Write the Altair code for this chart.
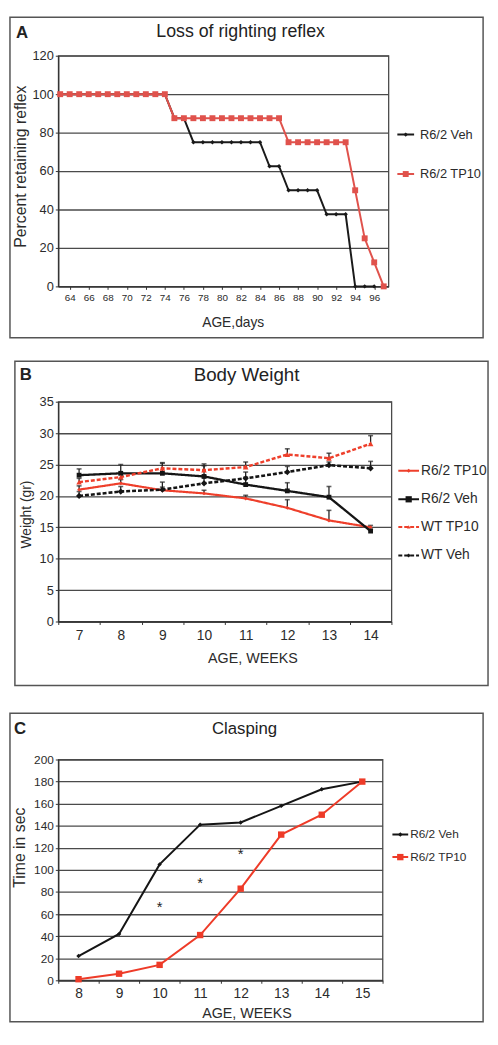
import altair as alt
import pandas as pd

FONT = "Liberation Sans"
INK = "#2b2b2b"
FRAME = "#555555"

# ---------------- Panel A : Loss of righting reflex ----------------
A_TITLE = "Loss of righting reflex"
A_SERIES = ["R6/2 Veh", "R6/2 TP10"]
A_COLORS = ["#1a1a1a", "#e0524c"]
A_SHAPES = ["diamond", "square"]
A_SIZES = [20, 36]
A_DAYS_VEH = [63, 64, 65, 66, 67, 68, 69, 70, 71, 72, 73, 74, 75, 76, 77, 78, 79,
              80, 81, 82, 83, 84, 85, 86, 87, 88, 89, 90, 91, 92, 93, 94, 95, 96]
A_VEH = [100, 100, 100, 100, 100, 100, 100, 100, 100, 100, 100, 100, 87.5, 87.5,
         75, 75, 75, 75, 75, 75, 75, 75, 62.5, 62.5, 50, 50, 50, 50,
         37.5, 37.5, 37.5, 0, 0, 0]
A_DAYS_TP10 = [63, 64, 65, 66, 67, 68, 69, 70, 71, 72, 73, 74, 75, 76, 77, 78, 79,
               80, 81, 82, 83, 84, 85, 86, 87, 88, 89, 90, 91, 92, 93, 94, 95, 96, 97]
A_TP10 = [100, 100, 100, 100, 100, 100, 100, 100, 100, 100, 100, 100,
          87.5, 87.5, 87.5, 87.5, 87.5, 87.5, 87.5, 87.5, 87.5, 87.5, 87.5, 87.5,
          75, 75, 75, 75, 75, 75, 75, 50, 25, 12.5, 0]
A_XTICKS = [64, 66, 68, 70, 72, 74, 76, 78, 80, 82, 84, 86, 88, 90, 92, 94, 96]
A_YTICKS = [0, 20, 40, 60, 80, 100, 120]

# ---------------- Panel B : Body Weight ----------------
B_TITLE = "Body Weight"
B_SERIES = ["R6/2 TP10", "R6/2 Veh", "WT TP10", "WT Veh"]
B_COLORS = ["#ee3f2b", "#151515", "#ee3f2b", "#151515"]
B_SHAPES = ["diamond", "square", "triangle-up", "diamond"]
B_SIZES = [16, 40, 14, 16]
B_DASHES = [[1, 0], [1, 0], [4, 2], [4, 2]]
B_WIDTHS = [2.2, 2.6, 1.5, 1.5]
B_WEEKS = [7, 8, 9, 10, 11, 12, 13, 14]
B_TP10 = [21.0, 22.0, 20.9, 20.4, 19.6, 18.1, 16.1, 15.0]
B_VEH = [23.3, 23.6, 23.6, 23.1, 21.8, 20.8, 19.8, 14.4]
B_WT_TP10 = [22.2, 23.0, 24.4, 24.1, 24.6, 26.6, 26.0, 28.3]
B_WT_VEH = [20.0, 20.7, 21.0, 22.0, 22.8, 23.8, 24.9, 24.4]
B_TP10_ERR = [0.6, 0.6, 0.5, 0.5, 0.5, 1.3, 1.6, 0.3]
B_VEH_ERR = [1.0, 1.4, 1.7, 2.0, 1.2, 1.3, 1.7, 0.3]
B_WT_TP10_ERR = [0.6, 0.6, 0.8, 0.7, 0.8, 0.9, 0.8, 1.3]
B_WT_VEH_ERR = [0.7, 0.8, 1.2, 1.2, 1.0, 0.9, 0.5, 1.1]
B_YTICKS = [0, 5, 10, 15, 20, 25, 30, 35]

# ---------------- Panel C : Clasping ----------------
C_TITLE = "Clasping"
C_SERIES = ["R6/2 Veh", "R6/2 TP10"]
C_COLORS = ["#151515", "#ee3b28"]
C_SHAPES = ["diamond", "square"]
C_SIZES = [20, 42]
C_WEEKS = [8, 9, 10, 11, 12, 13, 14, 15]
C_VEH = [22, 42, 105, 141, 143, 158, 173, 180]
C_TP10 = [1, 6, 14, 41, 83, 132, 150, 180]
C_STAR_WEEKS = [10, 11, 12]
C_STAR_Y = [69, 91, 117]
C_YTICKS = [0, 20, 40, 60, 80, 100, 120, 140, 160, 180, 200]

ONE = pd.DataFrame({"k": [0]})
CHANNELS = ["color", "fill", "stroke", "shape", "size", "strokeDash", "strokeWidth"]


def frame(x1, x2, y1, y2):
    return alt.Chart(ONE).mark_rect(filled=False, stroke=FRAME, strokeWidth=1.5).encode(
        x=alt.value(x1), x2=alt.value(x2), y=alt.value(y1), y2=alt.value(y2))


def label(text, x, y, size, weight="normal", align="center", color="#222222"):
    return alt.Chart(pd.DataFrame({"t": [text]})).mark_text(
        font=FONT, fontSize=size, fontWeight=weight, align=align,
        baseline="middle", color=color).encode(
        x=alt.value(x), y=alt.value(y), text="t:N")


def legend_layers(names, colors, shapes, sizes, dashes, x1, x2, ys, tx, fs):
    out = []
    for n, c, sh, sz, d, y in zip(names, colors, shapes, sizes, dashes, ys):
        out.append(alt.Chart(ONE).mark_rule(color=c, strokeWidth=2, strokeDash=d).encode(
            x=alt.value(x1), x2=alt.value(x2), y=alt.value(y)))
        out.append(alt.Chart(ONE).mark_point(filled=True, shape=sh, size=sz, color=c,
                                             opacity=1).encode(
            x=alt.value((x1 + x2) / 2), y=alt.value(y)))
        out.append(label(n, tx, y, fs, align="left", color=INK))
    return out


def independent(ch):
    kw = {c: "independent" for c in CHANNELS}
    return ch.resolve_scale(**kw).resolve_legend(**kw)


# ======== Panel A ========
dfA = pd.DataFrame({
    "day": A_DAYS_VEH + A_DAYS_TP10,
    "pct": A_VEH + A_TP10,
    "series": [A_SERIES[0]] * len(A_VEH) + [A_SERIES[1]] * len(A_TP10),
})
xA = alt.X("day:Q", scale=alt.Scale(domain=[62.8, 97.5], nice=False, zero=False),
           axis=alt.Axis(values=A_XTICKS, format="d", title="AGE,days", grid=False,
                         labelFontSize=10, titleFontSize=14, titleX=177, titleY=37,
                         titleBaseline="middle", tickSize=3, labelPadding=3,
                         labelFlush=False))
yA = alt.Y("pct:Q", scale=alt.Scale(domain=[0, 120], nice=False),
           axis=alt.Axis(values=A_YTICKS, title="Percent retaining reflex",
                         labelFontSize=13, titleFontSize=16, titleX=-38, titleY=112,
                         titleBaseline="middle", tickSize=3, labelPadding=2))
colA = alt.Scale(domain=A_SERIES, range=A_COLORS)
lineA = alt.Chart(dfA).mark_line(strokeWidth=2).encode(
    x=xA, y=yA, color=alt.Color("series:N", scale=colA, legend=None))
ptsA = alt.Chart(dfA).mark_point(filled=True, opacity=1, strokeWidth=1).encode(
    x=xA, y=yA,
    color=alt.Color("series:N", scale=colA, legend=None),
    shape=alt.Shape("series:N", scale=alt.Scale(domain=A_SERIES, range=A_SHAPES), legend=None),
    size=alt.Size("series:N", scale=alt.Scale(domain=A_SERIES, range=A_SIZES), legend=None))
chartA = alt.layer(
    frame(-49, 431, -39, 286), lineA, ptsA,
    label(A_TITLE, 185, -24, 18), label("A", -43, -23, 17, "bold", "left"),
    *legend_layers(A_SERIES, A_COLORS, A_SHAPES, A_SIZES, [[1, 0], [1, 0]],
                   344, 361, [80, 120], 367, 13),
).properties(width=335, height=234)

# ======== Panel B ========
b_vals = [B_TP10, B_VEH, B_WT_TP10, B_WT_VEH]
b_errs = [B_TP10_ERR, B_VEH_ERR, B_WT_TP10_ERR, B_WT_VEH_ERR]
rows = []
for s, vals, errs in zip(B_SERIES, b_vals, b_errs):
    for wk, v, e in zip(B_WEEKS, vals, errs):
        rows.append({"week": wk, "w": v, "err": e, "series": s})
dfB = pd.DataFrame(rows)
xB = alt.X("week:O", scale=alt.Scale(type="band", paddingInner=0, paddingOuter=0),
           axis=alt.Axis(title="AGE, WEEKS", labelAngle=0, tickBand="extent", grid=False,
                         labelFontSize=14, titleFontSize=14.5, titleX=197, titleY=38,
                         titleBaseline="middle", tickSize=3, labelPadding=4))
scB = alt.Scale(domain=[0, 35], nice=False)
axB = alt.Axis(values=B_YTICKS, title="Weight (gr)", labelFontSize=13,
               titleFontSize=14, titleX=-32, titleY=114,
               titleBaseline="middle", tickSize=3, labelPadding=2)
yB = alt.Y("w:Q", scale=scB, axis=axB)
yBhi = alt.Y("hi:Q", scale=scB, axis=axB)
colB = alt.Scale(domain=B_SERIES, range=B_COLORS)
lineB = alt.Chart(dfB).mark_line().encode(
    x=xB, y=yB,
    color=alt.Color("series:N", scale=colB, legend=None),
    strokeDash=alt.StrokeDash("series:N", scale=alt.Scale(domain=B_SERIES, range=B_DASHES), legend=None),
    strokeWidth=alt.StrokeWidth("series:N", scale=alt.Scale(domain=B_SERIES, range=B_WIDTHS), legend=None))
errB = alt.Chart(dfB).transform_calculate(hi="datum.w + datum.err").mark_rule(
    color="#222222", strokeWidth=1.3).encode(x=xB, y=yB, y2="hi:Q")
capB = alt.Chart(dfB).transform_calculate(hi="datum.w + datum.err").mark_tick(
    color="#222222", thickness=1.6, size=5, orient="horizontal").encode(x=xB, y=yBhi)
ptsB = alt.Chart(dfB).mark_point(filled=True, opacity=1, strokeWidth=1).encode(
    x=xB, y=yB,
    color=alt.Color("series:N", scale=colB, legend=None),
    shape=alt.Shape("series:N", scale=alt.Scale(domain=B_SERIES, range=B_SHAPES), legend=None),
    size=alt.Size("series:N", scale=alt.Scale(domain=B_SERIES, range=B_SIZES), legend=None))
chartB = alt.layer(
    frame(-44, 436, -41, 288), lineB, errB, capB, ptsB,
    label(B_TITLE, 191, -27, 19), label("B", -39, -27, 17, "bold", "left"),
    *legend_layers(B_SERIES, B_COLORS, B_SHAPES, B_SIZES, B_DASHES,
                   345, 366, [70, 99, 127, 156], 368, 14),
).properties(width=338, height=223)

# ======== Panel C ========
dfC = pd.DataFrame({
    "week": C_WEEKS + C_WEEKS,
    "t": C_VEH + C_TP10,
    "series": [C_SERIES[0]] * len(C_VEH) + [C_SERIES[1]] * len(C_TP10),
})
dfStar = pd.DataFrame({"week": C_STAR_WEEKS, "t": C_STAR_Y, "s": ["*"] * len(C_STAR_WEEKS)})
xC = alt.X("week:O", scale=alt.Scale(type="band", paddingInner=0, paddingOuter=0),
           axis=alt.Axis(title="AGE, WEEKS", labelAngle=0, tickBand="extent", grid=False,
                         labelFontSize=14, titleFontSize=14.5, titleX=191, titleY=34,
                         titleBaseline="middle", tickSize=3, labelPadding=3))
yC = alt.Y("t:Q", scale=alt.Scale(domain=[0, 200], nice=False),
           axis=alt.Axis(values=C_YTICKS, title="Time in sec", labelFontSize=12,
                         titleFontSize=16, titleX=-39, titleY=89,
                         titleBaseline="middle", tickSize=3, labelPadding=2))
colC = alt.Scale(domain=C_SERIES, range=C_COLORS)
lineC = alt.Chart(dfC).mark_line(strokeWidth=2).encode(
    x=xC, y=yC, color=alt.Color("series:N", scale=colC, legend=None))
ptsC = alt.Chart(dfC).mark_point(filled=True, opacity=1, strokeWidth=1).encode(
    x=xC, y=yC,
    color=alt.Color("series:N", scale=colC, legend=None),
    shape=alt.Shape("series:N", scale=alt.Scale(domain=C_SERIES, range=C_SHAPES), legend=None),
    size=alt.Size("series:N", scale=alt.Scale(domain=C_SERIES, range=C_SIZES), legend=None))
starC = alt.Chart(dfStar).mark_text(font=FONT, fontSize=15, color="#222222",
                                    baseline="alphabetic", dy=8).encode(
    x=xC, y=yC, text="s:N")
chartC = alt.layer(
    frame(-49, 431, -47, 266), lineC, ptsC, starC,
    label(C_TITLE, 189, -31, 17), label("C", -45, -31, 17, "bold", "left"),
    *legend_layers(C_SERIES, C_COLORS, C_SHAPES, C_SIZES, [[1, 0], [1, 0]],
                   339, 355, [76, 99], 357, 12),
).properties(width=329, height=224)

inner = independent(alt.vconcat(chartB, chartC, spacing=24))
chart = independent(alt.vconcat(chartA, inner, spacing=20))
chart = chart.properties(
    padding={"left": 0, "top": 0, "right": 0, "bottom": 0}
).configure(background="white", padding=0).configure_view(
    stroke="#4a4a4a", strokeWidth=1.3
).configure_axis(
    labelFont=FONT, titleFont=FONT, labelColor=INK, titleColor=INK,
    titleFontWeight="normal", domainColor="#333333", tickColor="#333333",
    gridColor="#4a4a4a", gridWidth=1.3, domainWidth=1.3
)

chart.save("out.html", embed_options={"renderer": "svg", "actions": False})
